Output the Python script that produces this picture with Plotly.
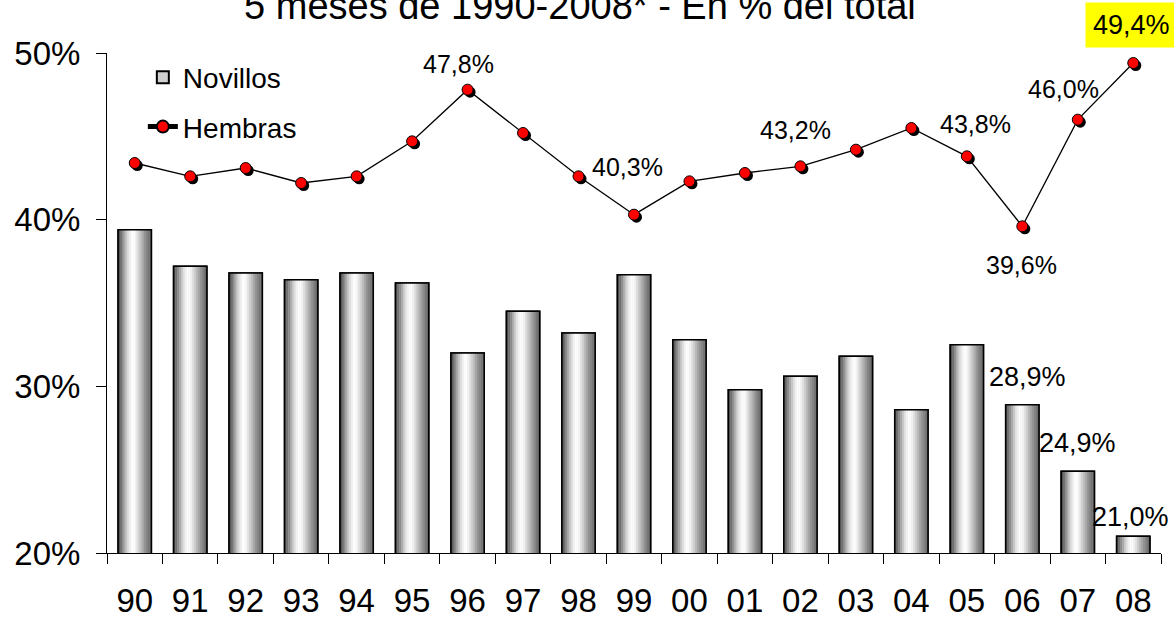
import plotly.graph_objects as go

# ---------------- data ----------------
years = ["90", "91", "92", "93", "94", "95", "96", "97", "98", "99",
         "00", "01", "02", "03", "04", "05", "06", "07", "08"]
novillos = [39.4, 37.2, 36.8, 36.4, 36.8, 36.2, 32.0, 34.5, 33.2, 36.7,
            32.8, 29.8, 30.6, 31.8, 28.6, 32.5, 28.9, 24.9, 21.0]
hembras = [43.4, 42.6, 43.1, 42.2, 42.6, 44.7, 47.8, 45.2, 42.6, 40.3,
           42.3, 42.8, 43.2, 44.2, 45.5, 43.8, 39.6, 46.0, 49.4]
title_text = "5 meses de 1990-2008* - En % del total"
y_ticks = [20, 30, 40, 50]
y_tick_text = ["20%", "30%", "40%", "50%"]

# which points carry a value label (index -> pixel offset dx, dy)
hem_labels = {6: (-9, -26), 9: (-7, -48), 12: (-5, -36), 15: (9, -32),
              16: (-1, 39), 17: (-14, -31), 18: (-2, -38)}
nov_labels = {16: (5, -28), 17: (0, -28), 18: (-3, -19)}

# ---------------- styling ----------------
FONT = "Liberation Sans, Arial, sans-serif"
BAR_W = 0.6
N_STRIPS = 18
stops = [(0.0, 70), (0.12, 130), (0.28, 215), (0.40, 252), (0.50, 250),
         (0.64, 205), (0.80, 150), (1.0, 95)]


def gray_at(t):
    for (t0, g0), (t1, g1) in zip(stops[:-1], stops[1:]):
        if t0 <= t <= t1:
            g = int(round(g0 + (g1 - g0) * (t - t0) / (t1 - t0)))
            return f"rgb({g},{g},{g})"
    g = stops[-1][1]
    return f"rgb({g},{g},{g})"


fig = go.Figure()

fig.add_trace(go.Bar(
    x=years, y=novillos, name="Novillos", width=BAR_W,
    marker=dict(color="#d0d0d0", line=dict(color="black", width=1.5)),
    legendgroup="nov", showlegend=True, hoverinfo="skip"))

sw = BAR_W / N_STRIPS
for i in range(N_STRIPS):
    t = (i + 0.5) / N_STRIPS
    fig.add_trace(go.Bar(
        x=years, y=novillos, width=sw * 1.15, offset=-BAR_W / 2 + i * sw,
        marker=dict(color=gray_at(t), line=dict(width=0)),
        showlegend=False, hoverinfo="skip"))

fig.add_trace(go.Bar(
    x=years, y=novillos, width=BAR_W,
    marker=dict(color="rgba(0,0,0,0)", line=dict(color="black", width=1.5)),
    showlegend=False, hoverinfo="skip"))

fig.add_trace(go.Scatter(
    x=years, y=hembras, mode="markers", xaxis="x2", yaxis="y2",
    marker=dict(color="black", size=11, line=dict(width=0)),
    showlegend=False, hoverinfo="skip"))

fig.add_trace(go.Scatter(
    x=years, y=hembras, mode="lines+markers", name="Hembras",
    xaxis="x3", yaxis="y3",
    line=dict(color="black", width=1.3),
    marker=dict(color="#ff0000", size=11, line=dict(color="black", width=1)),
    legendgroup="hem", showlegend=True))


def fmt(v):
    return f"{v:.1f}%".replace(".", ",")


annotations = []
for i, (dx, dy) in hem_labels.items():
    a = dict(x=i, y=hembras[i], xref="x", yref="y", text=fmt(hembras[i]),
             showarrow=False, xshift=dx, yshift=-dy,
             font=dict(family=FONT, size=25, color="black"))
    if i == len(years) - 1:
        a.update(bgcolor="#ffff00", borderpad=7,
                 font=dict(family=FONT, size=27, color="black"))
    annotations.append(a)
for i, (dx, dy) in nov_labels.items():
    annotations.append(dict(x=i, y=novillos[i], xref="x", yref="y",
                            text=fmt(novillos[i]), showarrow=False,
                            xshift=dx, yshift=-dy,
                            font=dict(family=FONT, size=27, color="black")))

PW = 1054.0
PH = 500.0
xr = [-0.5, len(years) - 0.5]
yr = [20, 50]
dx_cat = 2.5 * (xr[1] - xr[0]) / PW
dy_val = 2.5 * (yr[1] - yr[0]) / PH

fig.update_layout(
    template="none",
    width=1174, height=618,
    margin=dict(l=107, r=13, t=53, b=65, autoexpand=False),
    paper_bgcolor="white", plot_bgcolor="white",
    barmode="overlay", bargap=0.4,
    font=dict(family=FONT, color="black"),
    title=dict(text=title_text, x=0.494, xanchor="center", xref="container",
               y=0.990, yanchor="middle", yref="container",
               font=dict(family=FONT, size=38, color="black")),
    showlegend=True,
    legend=dict(x=0.034, y=1.001, xanchor="left", yanchor="top",
                bgcolor="rgba(0,0,0,0)", font=dict(family=FONT, size=28),
                traceorder="grouped", tracegroupgap=10, itemsizing="constant"),
    xaxis=dict(type="category", categoryorder="array", categoryarray=years,
               range=xr, showline=True, linecolor="black", linewidth=1,
               ticks="outside", tickson="boundaries", ticklen=10,
               tickcolor="black", tickwidth=1, ticklabelstandoff=18,
               tickfont=dict(family=FONT, size=33), showgrid=False,
               zeroline=False, fixedrange=True, automargin=False),
    yaxis=dict(range=yr, tickmode="array", tickvals=y_ticks, ticktext=y_tick_text,
               showline=True, linecolor="black", linewidth=1, ticks="outside",
               ticklen=10, tickcolor="black", tickwidth=1, ticklabelstandoff=9,
               tickfont=dict(family=FONT, size=33), showgrid=False,
               zeroline=False, fixedrange=True, automargin=False),
    xaxis2=dict(type="category", categoryorder="array", categoryarray=years,
                range=[xr[0] - dx_cat, xr[1] - dx_cat], overlaying="x",
                visible=False, fixedrange=True),
    yaxis2=dict(range=[yr[0] + dy_val, yr[1] + dy_val], overlaying="y",
                visible=False, fixedrange=True),
    xaxis3=dict(type="category", categoryorder="array", categoryarray=years,
                range=xr, overlaying="x", visible=False, fixedrange=True),
    yaxis3=dict(range=yr, overlaying="y", visible=False, fixedrange=True),
    annotations=annotations,
)

fig.write_html("out.html", config={"displayModeBar": False},
               post_script="document.body.style.margin='0px';")
